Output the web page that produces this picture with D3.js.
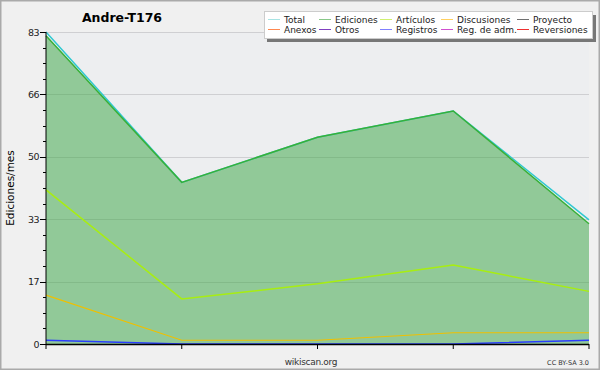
<!DOCTYPE html>
<html><head><meta charset="utf-8">
<script src="https://cdn.jsdelivr.net/npm/d3@7"></script>
<style>
body{margin:0;padding:0;background:#fff;}
svg{display:block;font-family:"DejaVu Sans",Verdana,sans-serif;}
</style></head><body>
<svg id="c" width="600" height="370"></svg>
<script>
const months = ["m1","m2","m3","m4","m5"];
const total = [83, 43, 55, 62, 33];
const ediciones = [82, 43, 55, 62, 32];
const articulos = [41, 12, 16, 21, 14];
const discusiones = [13, 1, 1, 3, 3];
const registros = [1, 0, 0, 0, 1];
const yMax = 83;
const yLabels = ["0","17","33","50","66","83"];
const legendItems = [
  ["Total","#a8e4e4"],["Ediciones","#88c888"],["Artículos","#d0f070"],["Discusiones","#ffd060"],["Proyecto","#707070"],
  ["Anexos","#ff8850"],["Otros","#8040c0"],["Registros","#8080ff"],["Reg. de adm.","#d050d0"],["Reversiones","#ee3030"]
];

const svg = d3.select("#c");
const W=600,H=370, L=46, R=589, T=32, B=344;
svg.append("rect").attr("x",0.5).attr("y",0.5).attr("width",W-1).attr("height",H-1)
  .attr("fill","#f0f0f0").attr("stroke","#aaaaaa").attr("stroke-width",2);
svg.append("rect").attr("x",L).attr("y",T).attr("width",R-L).attr("height",B-T).attr("fill","#edeef0");

const x = d3.scalePoint().domain(months).range([L,R]);
const y = d3.scaleLinear().domain([0,yMax]).range([B,T]);

const majors = d3.range(6).map(i=>yMax*i/5);
svg.append("g").selectAll("line").data(majors.slice(1)).join("line")
  .attr("x1",L).attr("x2",R).attr("y1",d=>Math.round(y(d))+0.5).attr("y2",d=>Math.round(y(d))+0.5)
  .attr("stroke","#cfcfd2").attr("stroke-width",1);

const area = d3.area().x((d,i)=>x(months[i])).y0(B).y1(d=>y(d));
svg.append("path").datum(ediciones).attr("d",area).attr("fill","#3ea646").attr("fill-opacity",0.52);

const line = d3.line().x((d,i)=>x(months[i])).y(d=>y(d));
function drawLine(data,color,w){
  svg.append("path").datum(data).attr("d",line).attr("fill","none").attr("stroke",color).attr("stroke-width",w);
}
drawLine(total,"#30c8d0",1.5);
drawLine(ediciones,"#38b038",1.5);
drawLine(articulos,"#a8ee10",1.5);
drawLine(discusiones,"#f0c000",1.1);
drawLine(registros,"#2a3cff",1.5);

const yTicks = d3.range(21).map(i=>yMax*i/20);
const yAx = svg.append("g").attr("transform",`translate(${L},0)`);
yAx.append("line").attr("x1",0).attr("x2",0).attr("y1",T).attr("y2",B).attr("stroke","#000");
yAx.selectAll("line.t").data(yTicks).join("line").attr("class","t")
  .attr("x1",(d,i)=>i%4===0?-6:-3).attr("x2",0)
  .attr("y1",d=>Math.round(y(d))+0.5).attr("y2",d=>Math.round(y(d))+0.5).attr("stroke","#000");
yAx.selectAll("text").data(majors).join("text")
  .attr("x",-7).attr("y",d=>y(d)+3.5).attr("text-anchor","end")
  .attr("font-size",9.5).attr("fill","#222").attr("letter-spacing",-0.5).text((d,i)=>yLabels[i]);

const xAx = svg.append("g").attr("transform",`translate(0,${B})`);
xAx.append("line").attr("x1",L).attr("x2",R).attr("y1",0.5).attr("y2",0.5).attr("stroke","#000").attr("stroke-width",1.5);
xAx.selectAll("line.t").data(months).join("line").attr("class","t")
  .attr("x1",d=>x(d)).attr("x2",d=>x(d)).attr("y1",0).attr("y2",5).attr("stroke","#000");

svg.append("text").attr("x",122).attr("y",22).attr("text-anchor","middle")
  .attr("font-size",12.5).attr("font-weight","bold").attr("fill","#000").text("Andre-T176");
svg.append("text").attr("transform","translate(14,188) rotate(-90)").attr("text-anchor","middle")
  .attr("font-size",10.5).attr("fill","#000").text("Ediciones/mes");
svg.append("text").attr("x",311).attr("y",365).attr("text-anchor","middle")
  .attr("font-size",9).attr("fill","#333").attr("letter-spacing",-0.3).text("wikiscan.org");
svg.append("text").attr("x",589).attr("y",365).attr("text-anchor","end")
  .attr("font-size",6.5).attr("fill","#333").text("CC BY-SA 3.0");

const lg = svg.append("g");
lg.append("rect").attr("x",267).attr("y",15).attr("width",329).attr("height",27).attr("fill","#777");
lg.append("rect").attr("x",264.5).attr("y",11.5).attr("width",328).attr("height",27).attr("fill","#fff").attr("stroke","#ccc");
const colX = [268,319,380,441,517];
legendItems.forEach((it,i)=>{
  const c=i%5, r=Math.floor(i/5);
  const cx=colX[c], cy=19+r*10;
  lg.append("line").attr("x1",cx).attr("x2",cx+12).attr("y1",cy+0.5).attr("y2",cy+0.5).attr("stroke",it[1]).attr("stroke-width",1);
  lg.append("text").attr("x",cx+16).attr("y",cy+4).attr("font-size",9).attr("fill","#222").text(it[0]);
});
</script>
</body></html>
